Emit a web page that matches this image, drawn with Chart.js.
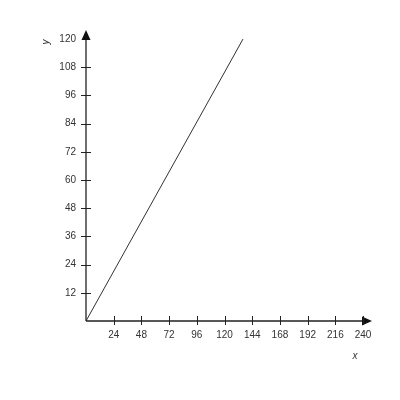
<!DOCTYPE html>
<html>
<head>
<meta charset="utf-8">
<script src="https://cdn.jsdelivr.net/npm/chart.js@4/dist/chart.umd.min.js"></script>
<style>
  html, body { margin: 0; padding: 0; background: #fff; }
  #wrap { width: 400px; height: 400px; }
</style>
</head>
<body>
<div id="wrap"><canvas id="grafico"></canvas></div>
<script>
// Datos de la recta
const puntosX = [0, 136];
const puntosY = [0, 120];
const ticksX = [24, 48, 72, 96, 120, 144, 168, 192, 216, 240];
const ticksY = [12, 24, 36, 48, 60, 72, 84, 96, 108, 120];

// Ejes con flechas y marcas que cruzan el eje
const ejesPlugin = {
    id: 'ejes',
    afterDraw(chart) {
        const ctx = chart.ctx;
        const sx = chart.scales.x;
        const sy = chart.scales.y;
        const x0 = sx.getPixelForValue(0);
        const y0 = sy.getPixelForValue(0);
        const xEnd = sx.right;
        const yEnd = sy.top;

        ctx.save();
        ctx.strokeStyle = '#222';
        ctx.fillStyle = '#111';
        ctx.lineWidth = 1.3;

        ctx.beginPath();
        ctx.moveTo(x0, y0);
        ctx.lineTo(xEnd - 4, y0);
        ctx.moveTo(x0, y0);
        ctx.lineTo(x0, yEnd + 4);
        ctx.stroke();

        // flechas
        ctx.beginPath();
        ctx.moveTo(xEnd + 2, y0);
        ctx.lineTo(xEnd - 8, y0 - 4.5);
        ctx.lineTo(xEnd - 8, y0 + 4.5);
        ctx.closePath();
        ctx.fill();
        ctx.beginPath();
        ctx.moveTo(x0, yEnd - 2);
        ctx.lineTo(x0 - 4.5, yEnd + 8);
        ctx.lineTo(x0 + 4.5, yEnd + 8);
        ctx.closePath();
        ctx.fill();

        // marcas
        ctx.lineWidth = 1;
        ctx.beginPath();
        ticksX.forEach(v => {
            const px = Math.round(sx.getPixelForValue(v)) + 0.5;
            ctx.moveTo(px, y0 - 5);
            ctx.lineTo(px, y0 + 4);
        });
        ticksY.forEach(v => {
            if (v === 120) return;
            const py = Math.round(sy.getPixelForValue(v)) + 0.5;
            ctx.moveTo(x0 - 5, py);
            ctx.lineTo(x0 + 5, py);
        });
        ctx.stroke();

        // titulos de ejes
        ctx.fillStyle = '#333';
        ctx.font = 'italic 10px "Liberation Sans", Arial, sans-serif';
        ctx.textAlign = 'center';
        ctx.textBaseline = 'middle';
        ctx.fillText('x', 355, 356);
        ctx.translate(46, 42);
        ctx.rotate(-Math.PI / 2);
        ctx.fillText('y', 0, 0);
        ctx.restore();
    }
};

const Grafico = {
    init() {
        const ctx = document.getElementById('grafico');
        if (!ctx) return;

        new Chart(ctx, {
            type: 'line',
            data: {
                datasets: [{
                    data: puntosX.map((x, i) => ({ x: x, y: puntosY[i] })),
                    borderColor: '#333',
                    borderWidth: 1,
                    pointRadius: 0,
                    fill: false
                }]
            },
            options: {
                responsive: true,
                maintainAspectRatio: false,
                animation: false,
                layout: { padding: { left: 0, top: 32, right: 30, bottom: 0 } },
                plugins: {
                    legend: { display: false },
                    tooltip: { enabled: false }
                },
                scales: {
                    x: {
                        type: 'linear',
                        min: 0,
                        max: 246,
                        border: { display: false },
                        grid: { display: false },
                        afterBuildTicks: s => { s.ticks = ticksX.map(v => ({ value: v })); },
                        afterFit: s => { s.height = 79; },
                        ticks: {
                            padding: 0,
                            maxRotation: 0,
                            autoSkip: false,
                            color: '#333',
                            font: { family: '"Liberation Sans", Arial, sans-serif', size: 10 }
                        }
                    },
                    y: {
                        type: 'linear',
                        min: 0,
                        max: 123,
                        border: { display: false },
                        grid: { display: false },
                        afterBuildTicks: s => { s.ticks = ticksY.map(v => ({ value: v })); },
                        afterFit: s => { s.width = 86; },
                        ticks: {
                            padding: 2,
                            autoSkip: false,
                            color: '#333',
                            font: { family: '"Liberation Sans", Arial, sans-serif', size: 10 }
                        }
                    }
                }
            },
            plugins: [ejesPlugin]
        });
    }
};

document.addEventListener('DOMContentLoaded', () => {
    Grafico.init();
});
</script>
</body>
</html>
